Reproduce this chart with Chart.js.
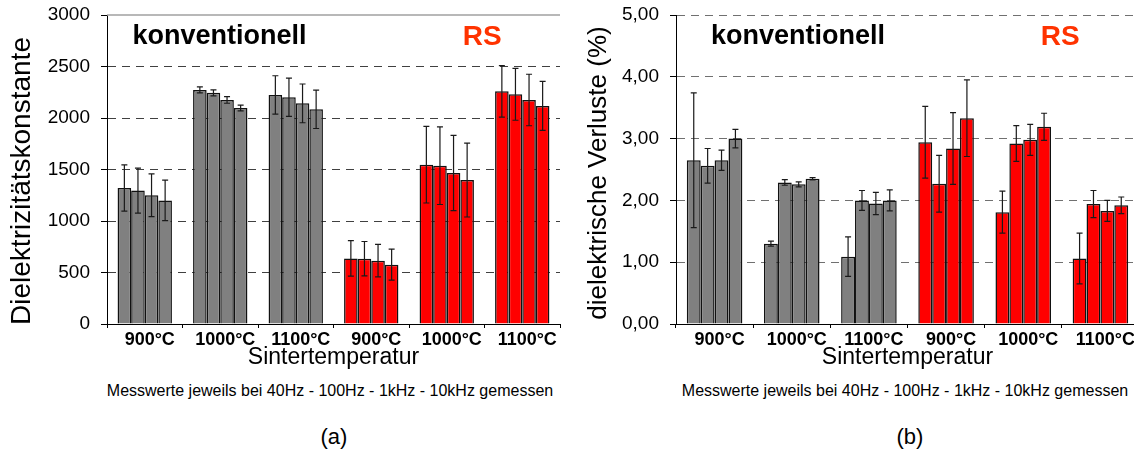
<!DOCTYPE html>
<html>
<head>
<meta charset="utf-8">
<script src="https://cdn.jsdelivr.net/npm/chart.js@4.4.1/dist/chart.umd.min.js"></script>
<style>
  html, body { margin: 0; padding: 0; background: #fff; overflow: hidden; }
  body { width: 1134px; height: 452px; position: relative; font-family: Arial, 'Liberation Sans', sans-serif; }
  .panel { position: absolute; top: 0; height: 372px; }
  .cap { position: absolute; text-align: center; color: #000; white-space: nowrap; }
</style>
</head>
<body>
<div class="panel" style="left:0;width:568px"><canvas id="chartA"></canvas></div>
<div class="panel" style="left:568px;width:580px"><canvas id="chartB"></canvas></div>
<div class="cap" style="left:80px;width:500px;top:381px;font-size:16px;line-height:20px">Messwerte jeweils bei 40Hz - 100Hz - 1kHz - 10kHz gemessen</div>
<div class="cap" style="left:655px;width:500px;top:381px;font-size:16px;line-height:20px">Messwerte jeweils bei 40Hz - 100Hz - 1kHz - 10kHz gemessen</div>
<div class="cap" style="left:284px;width:100px;top:424px;font-size:22px;line-height:26px">(a)</div>
<div class="cap" style="left:860px;width:100px;top:424px;font-size:22px;line-height:26px">(b)</div>
<script>
const FONT = "Arial, 'Liberation Sans', sans-serif"

// Sintertemperatur categories and process (konventionell / RS)
const temps = ['900°C', '1000°C', '1100°C', '900°C', '1000°C', '1100°C']
const process = ['konv', 'konv', 'konv', 'RS', 'RS', 'RS']
const freqs = ['40Hz', '100Hz', '1kHz', '10kHz']

// (a) Dielektrizitätskonstante per measuring frequency
const dk40 = [1320, 2273, 2224, 637, 1547, 2259]
const dk100 = [1295, 2244, 2201, 634, 1537, 2230]
const dk1k = [1250, 2175, 2142, 615, 1466, 2175]
const dk10k = [1200, 2097, 2084, 576, 1398, 2117]
const dkErr40 = [225, 29, 186, 172, 372, 250]
const dkErr100 = [218, 29, 186, 167, 377, 252]
const dkErr1k = [208, 32, 188, 158, 366, 250]
const dkErr10k = [196, 28, 186, 150, 359, 238]

// (b) dielektrische Verluste (%) per measuring frequency
const loss40 = [2.65, 1.30, 1.09, 2.94, 1.81, 1.06]
const loss100 = [2.56, 2.29, 2.00, 2.27, 2.92, 1.94]
const loss1k = [2.65, 2.26, 1.95, 2.84, 2.98, 1.83]
const loss10k = [3.00, 2.35, 2.00, 3.33, 3.19, 1.92]
const lossErr40 = [1.09, 0.04, 0.32, 0.58, 0.34, 0.41]
const lossErr100 = [0.28, 0.045, 0.16, 0.46, 0.29, 0.22]
const lossErr1k = [0.165, 0.04, 0.18, 0.58, 0.25, 0.17]
const lossErr10k = [0.15, 0.02, 0.17, 0.62, 0.22, 0.135]

const barColors = process.map(p => p === 'RS' ? '#ff0000' : '#808080')

// error bars with caps
const errorBars = {
  id: 'errorBars',
  afterDatasetsDraw(chart) {
    const ctx = chart.ctx
    const y = chart.scales.y
    ctx.save()
    ctx.strokeStyle = '#1a1a1a'
    ctx.lineWidth = 1.2
    chart.data.datasets.forEach((ds, i) => {
      chart.getDatasetMeta(i).data.forEach((bar, j) => {
        const v = ds.data[j]
        const e = ds.errors[j]
        const top = y.getPixelForValue(v + e)
        const bot = y.getPixelForValue(Math.max(0, v - e))
        ctx.beginPath()
        ctx.moveTo(bar.x, top); ctx.lineTo(bar.x, bot)
        ctx.moveTo(bar.x - 3, top); ctx.lineTo(bar.x + 3, top)
        ctx.moveTo(bar.x - 3, bot); ctx.lineTo(bar.x + 3, bot)
        ctx.stroke()
      })
    })
    ctx.restore()
  }
}

// in-plot labels, rotated y title, optional solid top line
const panelText = {
  id: 'panelText',
  beforeDatasetsDraw(chart, args, opts) {
    if (!opts.topLine) return
    const { ctx, chartArea } = chart
    ctx.save()
    ctx.strokeStyle = '#a0a0a0'
    ctx.lineWidth = 1.5
    ctx.beginPath()
    ctx.moveTo(chartArea.left, chartArea.top)
    ctx.lineTo(chartArea.right, chartArea.top)
    ctx.stroke()
    ctx.restore()
  },
  afterDraw(chart, args, opts) {
    const { ctx, chartArea, scales } = chart
    ctx.save()
    ctx.textAlign = 'center'
    ctx.textBaseline = 'middle'
    ctx.fillStyle = '#000'
    ctx.font = 'bold 27px ' + FONT
    ctx.fillText('konventionell', scales.x.getPixelForValue(opts.convAt), chartArea.top + 22)
    ctx.fillStyle = '#ff3300'
    ctx.font = 'bold 28px ' + FONT
    ctx.fillText('RS', scales.x.getPixelForValue(opts.rsAt), chartArea.top + 22)
    ctx.translate(opts.titleX, opts.titleY)
    ctx.rotate(-Math.PI / 2)
    ctx.fillStyle = '#000'
    ctx.font = opts.titleSize + 'px ' + FONT
    ctx.fillText(opts.yTitle, 0, 0)
    ctx.restore()
  }
}

function makeChart(id, series, errs, cfg) {
  const datasets = freqs.map((f, i) => ({
    label: f,
    data: series[i],
    errors: errs[i],
    backgroundColor: barColors,
    borderColor: '#111',
    borderWidth: 1.5
  }))

  return new Chart(document.getElementById(id), {
    type: 'bar',
    data: { labels: temps, datasets: datasets },
    plugins: [errorBars, panelText],
    options: {
      responsive: true,
      maintainAspectRatio: false,
      animation: false,
      layout: { padding: { top: 15, right: cfg.padRight, bottom: 1, left: 0 } },
      datasets: { bar: { categoryPercentage: 0.72, barPercentage: 1 } },
      plugins: {
        legend: { display: false },
        tooltip: { enabled: false },
        panelText: cfg.text
      },
      scales: {
        x: {
          grid: { drawOnChartArea: false, drawTicks: true, tickLength: 4, color: '#000' },
          border: { display: true, color: '#000', width: 1 },
          ticks: {
            color: '#000',
            font: { family: FONT, size: 18, weight: 'bold' },
            padding: 1,
            labelOffset: 5,
            maxRotation: 0,
            autoSkip: false
          },
          title: {
            display: true,
            text: 'Sintertemperatur',
            color: '#000',
            font: { family: FONT, size: 23 },
            padding: 0
          },
          afterFit(s) { s.height = 47 }
        },
        y: {
          min: 0,
          max: cfg.max,
          ticks: {
            stepSize: cfg.step,
            color: '#000',
            font: { family: FONT, size: 19 },
            padding: 11,
            callback: cfg.fmt
          },
          grid: {
            color: c => (c.tick.value === 0 || (cfg.text.topLine && c.tick.value === cfg.max)) ? 'rgba(0,0,0,0)' : cfg.gridColor,
            tickColor: '#000',
            tickLength: 6,
            drawTicks: true
          },
          border: { display: true, color: '#000', width: 1, dash: [8, 6] },
          afterFit(s) {
            s.width = cfg.axisWidth
            s.paddingTop = 0
          }
        }
      }
    }
  })
}

makeChart('chartA', [dk40, dk100, dk1k, dk10k], [dkErr40, dkErr100, dkErr1k, dkErr10k], {
  max: 3000,
  step: 500,
  fmt: v => String(v),
  gridColor: '#404040',
  padRight: 8,
  axisWidth: 107,
  text: { convAt: 0.99, rsAt: 4.47, topLine: true, yTitle: 'Dielektrizitätskonstante', titleX: 22.5, titleY: 181, titleSize: 28 }
})

makeChart('chartB', [loss40, loss100, loss1k, loss10k], [lossErr40, lossErr100, lossErr1k, lossErr10k], {
  max: 5,
  step: 1,
  fmt: v => v.toFixed(2).replace('.', ','),
  gridColor: '#707070',
  padRight: 9,
  axisWidth: 108,
  text: { convAt: 1.08, rsAt: 4.48, topLine: false, yTitle: 'dielektrische Verluste (%)', titleX: 30.5, titleY: 173, titleSize: 26 }
})
</script>
</body>
</html>
